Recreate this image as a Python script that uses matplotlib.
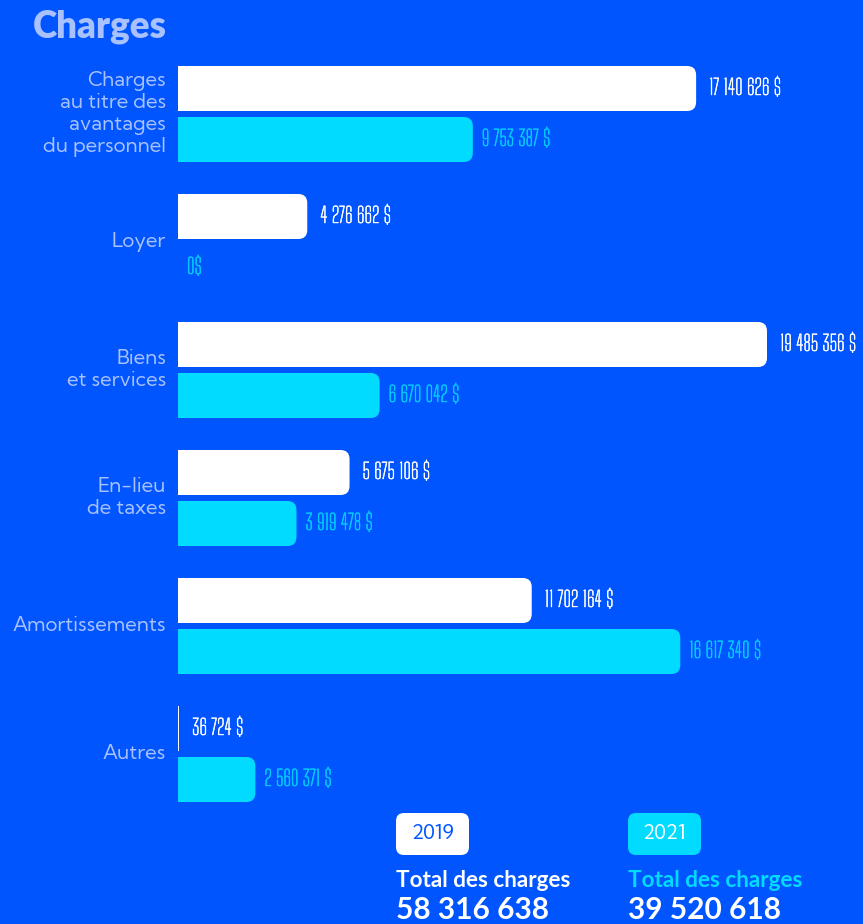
import matplotlib
matplotlib.use("Agg")
import matplotlib.pyplot as plt
import matplotlib.patheffects as pe
from matplotlib.patches import FancyBboxPatch, Rectangle
from matplotlib import font_manager

# ---------------- data ----------------
categories = ["Charges\nau titre des\navantages\ndu personnel", "Loyer",
              "Biens\net services", "En-lieu\nde taxes", "Amortissements", "Autres"]
values_2019 = [17140626, 4276662, 19485356, 5675106, 11702164, 36724]
values_2021 = [9753387, 0, 6670042, 3919478, 16617340, 2560371]
years = ["2019", "2021"]
title = "Charges"
total_label = "Total des charges"

# ---------------- style ----------------
BG = "#0055FF"
WHITE = "#FFFFFF"
CYAN = "#00DBFF"
CYAN_TXT = "#00CCFF"
LAV = "#A9C2FF"
W, H = 863, 924

names = {f.name for f in font_manager.fontManager.ttflist}
def pick(*c):
    for x in c:
        if x in names:
            return x
    return "DejaVu Sans"
MAIN = pick("Kumbh Sans", "Lato")
BOLD = pick("Lato", "DejaVu Sans")
NARROW = pick("Big Shoulders Text", "Antonio", "Roboto Condensed")

fig = plt.figure(figsize=(W / 100, H / 100), dpi=100, facecolor=BG)

ax_left, ax_right, ax_top, ax_bot = 178, 863, 50, 818
ax = fig.add_axes([ax_left / W, (H - ax_bot) / H, (ax_right - ax_left) / W, (ax_bot - ax_top) / H])
ax.set_facecolor(BG)
ax.axis("off")
XMAX = max(values_2019 + values_2021) * (ax_right - ax_left) / 589.0
n = len(categories)
ax.set_xlim(0, XMAX)
ax.set_ylim(n - 0.5, -0.5)

px_x = XMAX / (ax_right - ax_left)
px_y = n / (ax_bot - ax_top)
bar_h = 45 * px_y
off = 25.5 * px_y
r_px = 9
aspect = px_y / px_x


def fmt(v):
    if v == 0:
        return "0$"
    return f"{v:,}".replace(",", " ") + " $"


def draw_bar(y, v, color):
    if v <= 0:
        return
    if v < 2 * r_px * px_x:
        ax.add_patch(Rectangle((0, y - bar_h / 2), v, bar_h, fc=color, ec="none"))
        return
    r = r_px * px_x
    p = FancyBboxPatch((-r, y - bar_h / 2), v + r, bar_h,
                       boxstyle=f"round,pad=0,rounding_size={r}",
                       mutation_aspect=aspect, fc=color, ec="none", clip_on=True)
    ax.add_patch(p)


vfont = dict(family=NARROW, fontsize=15.5)

for i, cat in enumerate(categories):
    y1, y2 = i - off, i + off
    draw_bar(y1, values_2019[i], WHITE)
    draw_bar(y2, values_2021[i], CYAN)
    ax.text(values_2019[i] + 13 * px_x, y1, fmt(values_2019[i]), color=WHITE,
            ha="left", va="center",
            path_effects=[pe.withStroke(linewidth=0.3, foreground=WHITE)], **vfont)
    ax.text(values_2021[i] + 9 * px_x, y2, fmt(values_2021[i]), color=CYAN_TXT,
            ha="left", va="center",
            path_effects=[pe.withStroke(linewidth=0.3, foreground=CYAN_TXT)], **vfont)
    ax.text(-12 * px_x, i, cat, ha="right", va="center", color=LAV, family=MAIN,
            fontsize=14.6, linespacing=1.15, clip_on=False)

# title
fig.text(33 / W, 1 - 37 / H, title, color=LAV, family=BOLD, fontweight="heavy",
         fontsize=26.5, ha="left", va="baseline")

# legend / totals
totals = [sum(values_2019), sum(values_2021)]
colors_box = [WHITE, CYAN]
colors_txt = [BG, WHITE]
colors_tot = [WHITE, CYAN]
lx = [396, 628]
for k in range(2):
    x0 = lx[k]
    bw, bh = 73, 42
    rr = 8
    box = FancyBboxPatch((x0 / W, 1 - 855 / H), bw / W, bh / H,
                         boxstyle=f"round,pad=0,rounding_size={rr / W}",
                         mutation_aspect=W / H, transform=fig.transFigure,
                         fc=colors_box[k], ec="none")
    fig.patches.append(box)
    fig.text((x0 + bw / 2) / W, 1 - 834 / H, years[k], color=colors_txt[k],
             family=MAIN, fontsize=14.5, ha="center", va="center")
    fig.text(x0 / W, 1 - 887 / H, total_label, color=colors_tot[k], family=BOLD,
             fontweight="bold", fontsize=16.2, ha="left", va="baseline")
    fig.text(x0 / W, 1 - 919 / H, f"{totals[k]:,}".replace(",", " "), color=WHITE,
             family=BOLD, fontweight="bold", fontsize=21.5, ha="left", va="baseline")

fig.savefig("out.png", dpi=100, facecolor=BG)
